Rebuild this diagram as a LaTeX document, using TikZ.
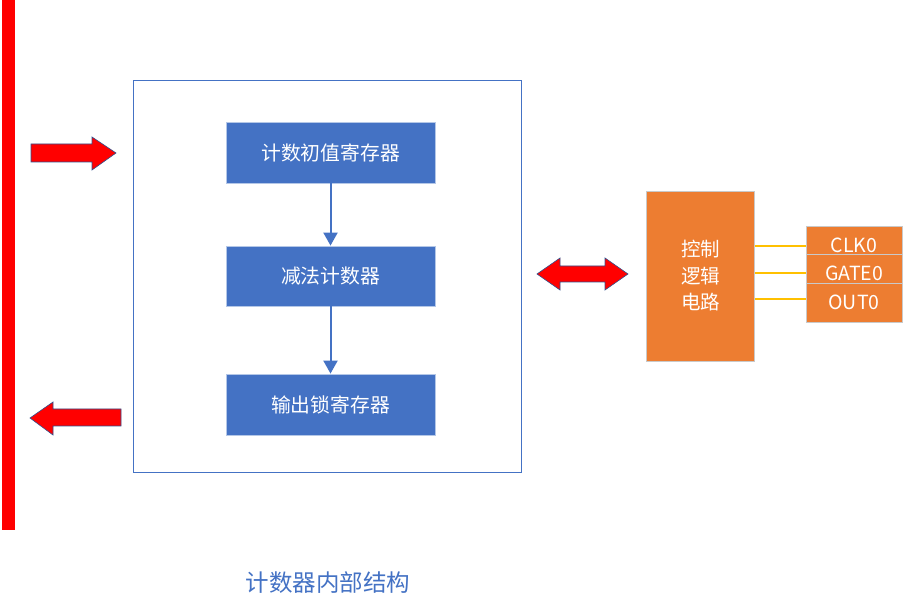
\documentclass[tikz,border=0pt]{standalone}
\usepackage{fontspec}
\setmainfont{Noto Sans CJK SC}
\usetikzlibrary{arrows.meta}
\definecolor{accblue}{HTML}{4472C4}
\definecolor{accorange}{HTML}{ED7D31}
\definecolor{accyellow}{HTML}{FFC000}
\definecolor{edgeblue}{HTML}{2F528F}
\definecolor{lightedge}{HTML}{B4C7E7}
\definecolor{greyedge}{HTML}{C9C9C9}
\begin{document}
\begin{tikzpicture}[x=1pt,y=-1pt,
  bluebox/.style={draw=lightedge,line width=0.8pt,fill=accblue,minimum width=209pt,text=white,inner sep=0pt,font=\fontsize{19.8}{24}\selectfont},
  orbox/.style={draw=greyedge,line width=0.8pt,fill=accorange,inner sep=0pt},
  sigtext/.style={text=white,inner sep=0pt,font=\fontsize{19.5}{22}\selectfont},
  flow/.style={draw=accblue,line width=2pt,-{Triangle[width=14pt,length=13pt]}},
  redarrow/.style={fill=red,draw=edgeblue,line width=0.6pt,line join=miter},
  wire/.style={draw=accyellow,line width=1.5pt}]
\useasboundingbox (0,0) rectangle (903,609);
% red bus bar
\fill[red] (2,0) rectangle (15,530);
% outer box
\node[draw=accblue,line width=0.8pt,minimum width=388pt,minimum height=392pt,inner sep=0pt] (outer) at (327,276) {};
% inner blocks
\node[bluebox,minimum height=61pt] (b1) at (330.5,152.5) {计数初值寄存器};
\node[bluebox,minimum height=60pt] (b2) at (330.5,276) {减法计数器};
\node[bluebox,minimum height=61pt] (b3) at (330.5,404.5) {输出锁寄存器};
\draw[flow] (b1.south) -- (b2.north);
\draw[flow] (b2.south) -- (b3.north);
% red block arrows
\draw[redarrow] (31,144) -- (92,144) -- (92,137) -- (116,153) -- (92,170) -- (92,162) -- (31,162) -- cycle;
\draw[redarrow] (121,409) -- (53,409) -- (53,402) -- (30,418) -- (53,435) -- (53,426) -- (121,426) -- cycle;
\draw[redarrow] (537,274) -- (560,258) -- (560,266) -- (605,266) -- (605,258) -- (628,274) -- (605,290) -- (605,282) -- (560,282) -- (560,290) -- cycle;
% control logic
\node[orbox,minimum width=108pt,minimum height=170pt,text=white,align=center,font=\fontsize{19.5}{26.5}\selectfont] (ctrl) at (700.5,276) {控制\\逻辑\\电路};
\node[orbox,minimum width=96pt,minimum height=28pt] (s1) at (854,240) {};
\node[orbox,minimum width=96pt,minimum height=29pt] (s2) at (854,268.5) {};
\node[orbox,minimum width=96pt,minimum height=39pt] (s3) at (854,302.5) {};
\node[sigtext] (t1) at (854,245) {CLK0};
\node[sigtext] (t2) at (854,273) {GATE0};
\node[sigtext] (t3) at (854,302) {OUT0};
\draw[wire] (ctrl.east |- 0,246) -- (s1.west |- 0,246);
\draw[wire] (ctrl.east |- 0,273) -- (s2.west |- 0,273);
\draw[wire] (ctrl.east |- 0,299) -- (s3.west |- 0,299);
% caption
\node[text=accblue,font=\fontsize{23.5}{26}\selectfont] (cap) at (328,583) {计数器内部结构};
\end{tikzpicture}
\end{document}
